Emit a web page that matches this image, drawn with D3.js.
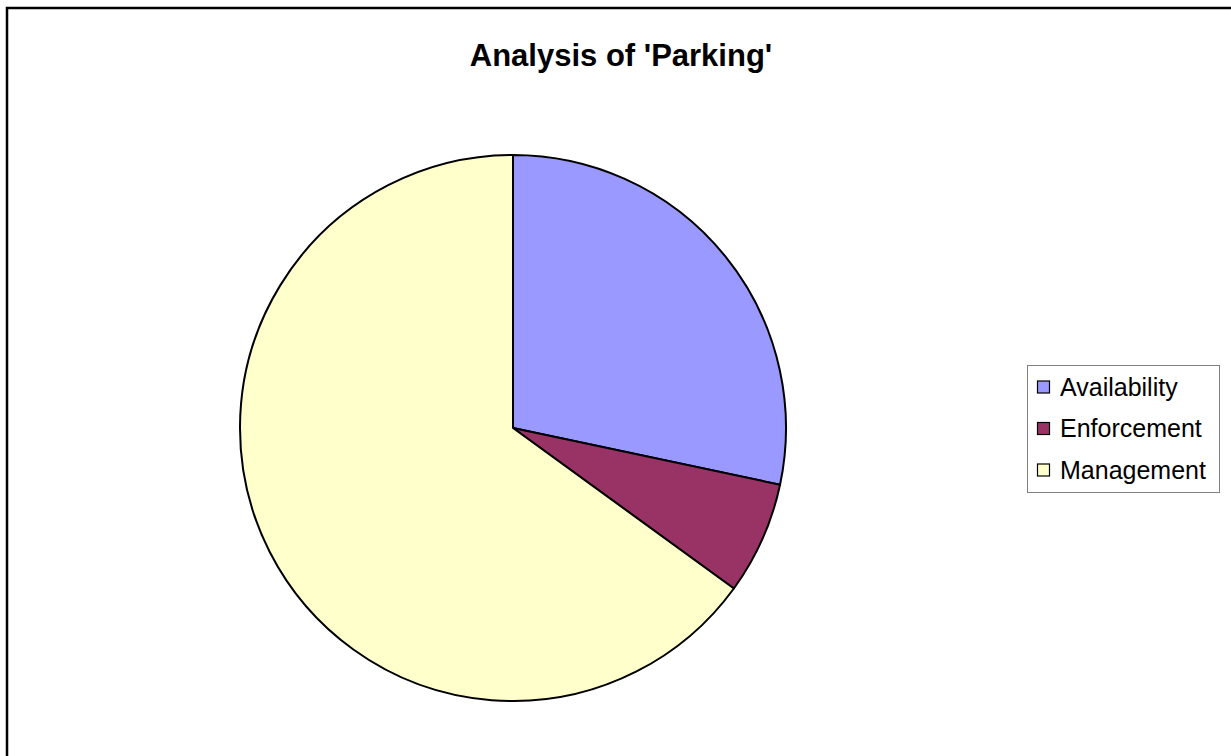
<!DOCTYPE html>
<html><head><meta charset="utf-8">
<script src="https://cdn.jsdelivr.net/npm/d3@7"></script>
<style>body{margin:0;background:#fff}svg{display:block}</style>
</head><body>
<script>
const categories = ["Availability", "Enforcement", "Management"];
const values = [17, 4, 39];
const colors = ["#9999ff", "#993366", "#ffffcc"];
const title = "Analysis of 'Parking'";

const W = 1231, H = 756;
const svg = d3.select("body").append("svg").attr("width", W).attr("height", H);
svg.append("rect").attr("width", W).attr("height", H).attr("fill", "#fff");
svg.append("rect").attr("x", 7).attr("y", 8).attr("width", W + 20).attr("height", H + 20)
  .attr("fill", "none").attr("stroke", "#000").attr("stroke-width", 2.5);

svg.append("text").attr("x", 621).attr("y", 66).attr("text-anchor", "middle")
  .attr("font-family", "Liberation Sans, Arial, sans-serif").attr("font-weight", "bold")
  .attr("font-size", 31).text(title);

const cx = 513, cy = 428, r = 273;
const pie = d3.pie().sort(null).value(d => d)(values);
const arc = d3.arc().innerRadius(0).outerRadius(r);
const color = d3.scaleOrdinal().domain(categories).range(colors);
svg.append("g").attr("transform", `translate(${cx},${cy})`)
  .selectAll("path").data(pie).join("path")
  .attr("d", arc).attr("fill", (d, i) => color(categories[i]))
  .attr("stroke", "#000").attr("stroke-width", 2).attr("stroke-linejoin", "round");

const lg = svg.append("g");
lg.append("rect").attr("x", 1027.5).attr("y", 365.5).attr("width", 192).attr("height", 127)
  .attr("fill", "#fff").attr("stroke", "#808080").attr("stroke-width", 1);
const rowY = d3.scalePoint().domain(categories).range([387, 470]);
categories.forEach((c, i) => {
  const y = rowY(c);
  lg.append("rect").attr("x", 1037.5).attr("y", y - 6).attr("width", 12).attr("height", 12)
    .attr("fill", color(c)).attr("stroke", "#000").attr("stroke-width", 1.2);
  lg.append("text").attr("x", 1060).attr("y", y + 8.5)
    .attr("font-family", "Liberation Sans, Arial, sans-serif").attr("font-size", 25)
    .text(c);
});
</script>
</body></html>
